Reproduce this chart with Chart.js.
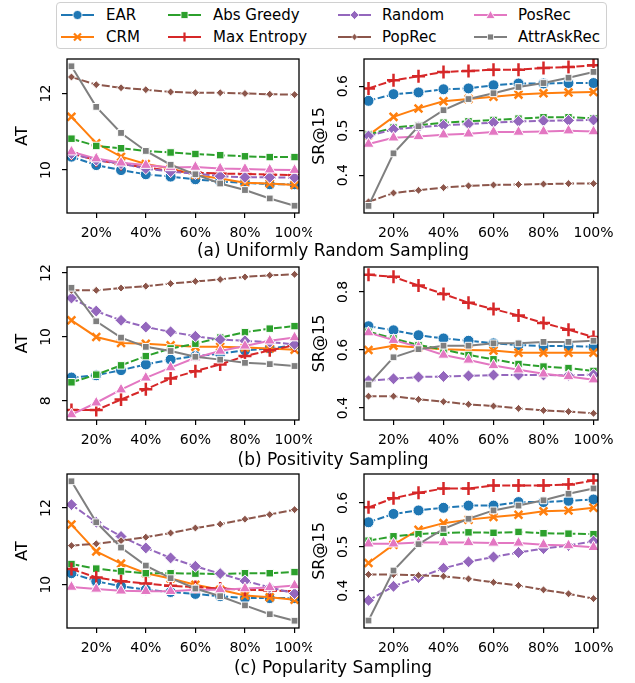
<!DOCTYPE html>
<html>
<head>
<meta charset="utf-8">
<script src="https://cdn.jsdelivr.net/npm/chart.js@4.4.1/dist/chart.umd.min.js"></script>
<style>
  html, body { margin: 0; padding: 0; background: #fff; }
  body { width: 635px; height: 683px; position: relative; overflow: hidden; font-family: 'DejaVu Sans', sans-serif; }
  .cv { position: absolute; }
  .title { position: absolute; left: 0; width: 666px; text-align: center; font-size: 17px; line-height: 20px; color: #000; }
  #legend { position: absolute; left: 56px; top: 2px; width: 551px; height: 47px; border: 1px solid #d0d0d0; border-radius: 4px; box-sizing: border-box; background: #fff; }
  .lg { position: absolute; font-size: 15px; line-height: 16px; color: #000; white-space: nowrap; }
  .lg svg { position: absolute; }
</style>
</head>
<body>
<div id="legend"></div>
<div class="cv" style="left:0;top:55px;width:312px;height:188px;"><canvas id="c_a_at"></canvas></div>
<div class="cv" style="left:312px;top:55px;width:323px;height:188px;"><canvas id="c_a_sr"></canvas></div>
<div class="cv" style="left:0;top:263px;width:312px;height:187px;"><canvas id="c_b_at"></canvas></div>
<div class="cv" style="left:312px;top:263px;width:323px;height:187px;"><canvas id="c_b_sr"></canvas></div>
<div class="cv" style="left:0;top:470px;width:312px;height:188px;"><canvas id="c_c_at"></canvas></div>
<div class="cv" style="left:312px;top:470px;width:323px;height:188px;"><canvas id="c_c_sr"></canvas></div>
<div class="title" style="top:240px;">(a) Uniformly Random Sampling</div>
<div class="title" style="top:449px;">(b) Positivity Sampling</div>
<div class="title" style="top:657px;">(c) Popularity Sampling</div>
<script>
// ---------------- DATA ----------------
const methods = ['EAR', 'CRM', 'Abs Greedy', 'Max Entropy', 'Random', 'PopRec', 'PosRec', 'AttrAskRec'];
const samplingRatios = [10, 20, 30, 40, 50, 60, 70, 80, 90, 100];
const xTickValues = [20, 40, 60, 80, 100];

// (a) Uniformly Random Sampling - AT
const uniformAT_EAR        = [10.35, 10.13, 10.00, 9.89, 9.83, 9.76, 9.70, 9.67, 9.63, 9.63];
const uniformAT_CRM        = [11.39, 10.70, 10.35, 10.16, 10.04, 9.87, 9.78, 9.67, 9.65, 9.61];
const uniformAT_AbsGreedy  = [10.82, 10.63, 10.57, 10.50, 10.46, 10.42, 10.39, 10.36, 10.34, 10.34];
const uniformAT_MaxEntropy = [10.43, 10.26, 10.16, 10.07, 9.98, 9.93, 9.91, 9.90, 9.88, 9.87];
const uniformAT_Random     = [10.43, 10.26, 10.17, 10.04, 9.96, 9.91, 9.84, 9.81, 9.81, 9.80];
const uniformAT_PopRec     = [12.43, 12.23, 12.15, 12.10, 12.04, 12.02, 12.02, 12.00, 11.98, 11.97];
const uniformAT_PosRec     = [10.48, 10.30, 10.19, 10.13, 10.07, 10.08, 10.04, 10.03, 10.01, 10.00];
const uniformAT_AttrAskRec = [12.71, 11.65, 10.97, 10.50, 10.14, 9.89, 9.65, 9.48, 9.26, 9.07];
// (a) Uniformly Random Sampling - SR@15
const uniformSR_EAR        = [0.567, 0.582, 0.586, 0.593, 0.595, 0.602, 0.606, 0.606, 0.607, 0.607];
const uniformSR_CRM        = [0.490, 0.531, 0.550, 0.566, 0.571, 0.576, 0.581, 0.584, 0.586, 0.587];
const uniformSR_AbsGreedy  = [0.491, 0.507, 0.512, 0.518, 0.521, 0.524, 0.527, 0.530, 0.530, 0.528];
const uniformSR_MaxEntropy = [0.595, 0.613, 0.622, 0.632, 0.634, 0.637, 0.637, 0.641, 0.643, 0.647];
const uniformSR_Random     = [0.488, 0.503, 0.508, 0.512, 0.515, 0.518, 0.521, 0.522, 0.523, 0.524];
const uniformSR_PopRec     = [0.340, 0.360, 0.366, 0.372, 0.376, 0.378, 0.379, 0.380, 0.381, 0.381];
const uniformSR_PosRec     = [0.470, 0.484, 0.487, 0.491, 0.493, 0.497, 0.497, 0.498, 0.500, 0.498];
const uniformSR_AttrAskRec = [0.331, 0.449, 0.510, 0.546, 0.571, 0.584, 0.598, 0.607, 0.619, 0.632];

// (b) Positivity Sampling - AT
const positiveAT_EAR        = [8.73, 8.80, 8.96, 9.14, 9.29, 9.40, 9.48, 9.58, 9.64, 9.74];
const positiveAT_CRM        = [10.52, 10.00, 9.81, 9.79, 9.74, 9.69, 9.69, 9.67, 9.64, 9.60];
const positiveAT_AbsGreedy  = [8.58, 8.82, 9.11, 9.40, 9.64, 9.79, 9.98, 10.15, 10.26, 10.34];
const positiveAT_MaxEntropy = [7.71, 7.71, 8.04, 8.36, 8.70, 8.93, 9.14, 9.40, 9.58, 9.74];
const positiveAT_Random     = [11.22, 10.81, 10.52, 10.31, 10.16, 10.02, 9.92, 9.88, 9.84, 9.77];
const positiveAT_PopRec     = [11.46, 11.46, 11.53, 11.59, 11.67, 11.74, 11.80, 11.88, 11.93, 11.96];
const positiveAT_PosRec     = [7.57, 7.94, 8.35, 8.72, 9.04, 9.35, 9.56, 9.72, 9.88, 9.98];
const positiveAT_AttrAskRec = [11.54, 10.49, 9.98, 9.69, 9.56, 9.38, 9.29, 9.19, 9.15, 9.09];
// (b) Positivity Sampling - SR@15
const positiveSR_EAR        = [0.682, 0.668, 0.651, 0.640, 0.632, 0.623, 0.617, 0.614, 0.614, 0.611];
const positiveSR_CRM        = [0.600, 0.615, 0.609, 0.603, 0.600, 0.598, 0.591, 0.591, 0.591, 0.591];
const positiveSR_AbsGreedy  = [0.663, 0.640, 0.617, 0.602, 0.583, 0.568, 0.552, 0.543, 0.538, 0.528];
const positiveSR_MaxEntropy = [0.859, 0.852, 0.822, 0.793, 0.763, 0.741, 0.719, 0.693, 0.670, 0.645];
const positiveSR_Random     = [0.494, 0.501, 0.507, 0.509, 0.511, 0.514, 0.514, 0.514, 0.513, 0.515];
const positiveSR_PopRec     = [0.441, 0.441, 0.430, 0.422, 0.413, 0.407, 0.399, 0.392, 0.388, 0.382];
const positiveSR_PosRec     = [0.660, 0.634, 0.611, 0.583, 0.566, 0.547, 0.532, 0.518, 0.509, 0.498];
const positiveSR_AttrAskRec = [0.481, 0.575, 0.603, 0.615, 0.615, 0.623, 0.623, 0.628, 0.628, 0.632];

// (c) Popularity Sampling - AT
const popularAT_EAR        = [10.30, 10.09, 9.96, 9.87, 9.81, 9.76, 9.70, 9.65, 9.65, 9.65];
const popularAT_CRM        = [11.57, 10.87, 10.55, 10.30, 10.16, 10.00, 9.87, 9.72, 9.67, 9.61];
const popularAT_AbsGreedy  = [10.54, 10.42, 10.35, 10.30, 10.30, 10.29, 10.28, 10.30, 10.30, 10.33];
const popularAT_MaxEntropy = [10.41, 10.19, 10.09, 10.03, 9.97, 9.94, 9.90, 9.87, 9.85, 9.83];
const popularAT_Random     = [12.09, 11.63, 11.26, 10.96, 10.70, 10.48, 10.29, 10.10, 9.93, 9.77];
const popularAT_PopRec     = [11.02, 11.07, 11.15, 11.24, 11.35, 11.48, 11.58, 11.71, 11.83, 11.96];
const popularAT_PosRec     = [9.94, 9.89, 9.84, 9.83, 9.83, 9.87, 9.87, 9.90, 9.93, 9.98];
const popularAT_AttrAskRec = [12.70, 11.63, 10.97, 10.50, 10.17, 9.90, 9.70, 9.46, 9.23, 9.06];
// (c) Popularity Sampling - SR@15
const popularSR_EAR        = [0.556, 0.575, 0.583, 0.589, 0.594, 0.594, 0.602, 0.602, 0.605, 0.608];
const popularSR_CRM        = [0.463, 0.505, 0.539, 0.554, 0.562, 0.568, 0.573, 0.581, 0.583, 0.589];
const popularSR_AbsGreedy  = [0.514, 0.524, 0.529, 0.532, 0.533, 0.532, 0.534, 0.531, 0.530, 0.529];
const popularSR_MaxEntropy = [0.590, 0.611, 0.623, 0.633, 0.633, 0.640, 0.640, 0.640, 0.642, 0.651];
const popularSR_Random     = [0.378, 0.410, 0.430, 0.451, 0.466, 0.477, 0.487, 0.496, 0.503, 0.513];
const popularSR_PopRec     = [0.437, 0.437, 0.435, 0.433, 0.427, 0.419, 0.412, 0.402, 0.393, 0.382];
const popularSR_PosRec     = [0.507, 0.507, 0.510, 0.510, 0.510, 0.509, 0.509, 0.505, 0.503, 0.499];
const popularSR_AttrAskRec = [0.332, 0.446, 0.506, 0.541, 0.564, 0.583, 0.594, 0.606, 0.621, 0.633];

// y-axis ticks per panel
const atTicksA = [10, 12];
const srTicksA = [0.4, 0.5, 0.6];
const atTicksB = [8, 10, 12];
const srTicksB = [0.4, 0.6, 0.8];
const atTicksC = [10, 12];
const srTicksC = [0.4, 0.5, 0.6];

// ---------------- STYLES ----------------
const FONT = "'DejaVu Sans', sans-serif";
const colors = ['#1f77b4', '#ff7f0e', '#2ca02c', '#d62728', '#9467bd', '#8c564b', '#e377c2', '#7f7f7f'];
const styles = [
  { pointStyle: 'circle',   radius: 5.5, filled: true,  dash: [7, 2.5] },
  { pointStyle: 'crossRot', radius: 5.5, filled: false, dash: [] },
  { pointStyle: 'rect',     radius: 5.3, filled: true,  dash: [8, 2.5] },
  { pointStyle: 'cross',    radius: 6.5, filled: false, dash: [8, 2.5] },
  { pointStyle: 'rectRot',  radius: 6,   filled: true,  dash: [7, 2.5] },
  { pointStyle: 'rectRot',  radius: 4,   filled: true,  dash: [8, 2.5] },
  { pointStyle: 'triangle', radius: 6.5, filled: true,  dash: [] },
  { pointStyle: 'rect',     radius: 4.8, filled: true,  dash: [] }
];

function makeDatasets(seriesList) {
  return seriesList.map((vals, i) => {
    const s = styles[i];
    return {
      label: methods[i],
      data: vals.map((v, k) => ({ x: samplingRatios[k], y: v })),
      borderColor: colors[i],
      backgroundColor: colors[i],
      borderWidth: 2,
      borderDash: s.dash,
      pointStyle: s.pointStyle,
      pointRadius: s.radius,
      pointBackgroundColor: colors[i],
      pointBorderColor: s.filled ? '#ffffff' : colors[i],
      pointBorderWidth: s.filled ? 1 : 2.5,
      tension: 0,
      order: methods.length - i
    };
  });
}

function fmtTick(v, kind) {
  return kind === 'sr' ? v.toFixed(1) : String(v);
}

const decoPlugin = {
  id: 'deco',
  afterDraw(chart) {
    const o = chart.options.plugins.deco;
    const ctx = chart.ctx;
    const ca = chart.chartArea;
    const ys = chart.scales.y;
    const xs = chart.scales.x;
    ctx.save();
    // frame
    ctx.strokeStyle = '#000';
    ctx.lineWidth = 1.3;
    ctx.strokeRect(ca.left, ca.top, ca.right - ca.left, ca.bottom - ca.top);
    ctx.fillStyle = '#000';
    ctx.font = '14px ' + FONT;
    ctx.textAlign = 'center';
    ctx.textBaseline = 'middle';
    // x tick labels
    xs.ticks.forEach(t => {
      ctx.fillText(t.value + '%', xs.getPixelForValue(t.value), ca.bottom + 20);
    });
    // y tick labels (rotated)
    ys.ticks.forEach(t => {
      const y = ys.getPixelForValue(t.value);
      ctx.save();
      ctx.translate(ca.left - 21, y);
      ctx.rotate(-Math.PI / 2);
      ctx.fillText(fmtTick(t.value, o.kind), 0, 0);
      ctx.restore();
    });
    // y title
    ctx.font = '16px ' + FONT;
    ctx.save();
    ctx.translate(ca.left - 44, (ca.top + ca.bottom) / 2);
    ctx.rotate(-Math.PI / 2);
    ctx.fillText(o.yTitle, 0, 0);
    ctx.restore();
    ctx.restore();
  }
};

function makeChart(id, seriesList, yMin, yMax, yTicks, yTitle, kind, yAxisW, padRight) {
  new Chart(document.getElementById(id), {
    type: 'line',
    data: { datasets: makeDatasets(seriesList) },
    plugins: [decoPlugin],
    options: {
      responsive: true,
      maintainAspectRatio: false,
      animation: false,
      events: [],
      layout: { autoPadding: false, padding: { left: 0, right: padRight, top: 4, bottom: 0 } },
      plugins: {
        legend: { display: false },
        tooltip: { enabled: false },
        deco: { yTitle: yTitle, kind: kind }
      },
      scales: {
        x: {
          type: 'linear',
          min: 8.2,
          max: 101.8,
          afterBuildTicks(scale) { scale.ticks = xTickValues.map(v => ({ value: v })); },
          afterFit(scale) { scale.height = 30; },
          border: { display: false },
          grid: { display: true, drawOnChartArea: false, drawTicks: true, tickLength: 5, color: '#000', lineWidth: 1.2 },
          ticks: { display: false }
        },
        y: {
          type: 'linear',
          min: yMin,
          max: yMax,
          afterBuildTicks(scale) { scale.ticks = yTicks.map(v => ({ value: v })); },
          afterFit(scale) { scale.width = yAxisW; },
          border: { display: false },
          grid: { display: true, drawOnChartArea: false, drawTicks: true, tickLength: 5, color: '#000', lineWidth: 1.2 },
          ticks: { display: false }
        }
      }
    }
  });
}

makeChart('c_a_at', [uniformAT_EAR, uniformAT_CRM, uniformAT_AbsGreedy, uniformAT_MaxEntropy, uniformAT_Random, uniformAT_PopRec, uniformAT_PosRec, uniformAT_AttrAskRec],
  8.88, 12.9, atTicksA, 'AT', 'at', 67, 13);
makeChart('c_a_sr', [uniformSR_EAR, uniformSR_CRM, uniformSR_AbsGreedy, uniformSR_MaxEntropy, uniformSR_Random, uniformSR_PopRec, uniformSR_PosRec, uniformSR_AttrAskRec],
  0.315, 0.661, srTicksA, 'SR@15', 'sr', 52, 37);
makeChart('c_b_at', [positiveAT_EAR, positiveAT_CRM, positiveAT_AbsGreedy, positiveAT_MaxEntropy, positiveAT_Random, positiveAT_PopRec, positiveAT_PosRec, positiveAT_AttrAskRec],
  7.40, 12.19, atTicksB, 'AT', 'at', 67, 13);
makeChart('c_b_sr', [positiveSR_EAR, positiveSR_CRM, positiveSR_AbsGreedy, positiveSR_MaxEntropy, positiveSR_Random, positiveSR_PopRec, positiveSR_PosRec, positiveSR_AttrAskRec],
  0.359, 0.886, srTicksB, 'SR@15', 'sr', 52, 37);
makeChart('c_c_at', [popularAT_EAR, popularAT_CRM, popularAT_AbsGreedy, popularAT_MaxEntropy, popularAT_Random, popularAT_PopRec, popularAT_PosRec, popularAT_AttrAskRec],
  8.87, 12.89, atTicksC, 'AT', 'at', 67, 13);
makeChart('c_c_sr', [popularSR_EAR, popularSR_CRM, popularSR_AbsGreedy, popularSR_MaxEntropy, popularSR_Random, popularSR_PopRec, popularSR_PosRec, popularSR_AttrAskRec],
  0.315, 0.666, srTicksC, 'SR@15', 'sr', 52, 37);

// ---------------- LEGEND ----------------
function markerSVG(i) {
  const c = colors[i];
  const cx = 16.5, cy = 8;
  switch (i) {
    case 0: return `<circle cx="${cx}" cy="${cy}" r="4.5" fill="${c}" stroke="#fff" stroke-width="0.8"/>`;
    case 1: return `<path d="M${cx-3.5},${cy-3.5}L${cx+3.5},${cy+3.5}M${cx+3.5},${cy-3.5}L${cx-3.5},${cy+3.5}" stroke="${c}" stroke-width="2.2"/>`;
    case 2: return `<rect x="${cx-3.5}" y="${cy-3.5}" width="7" height="7" fill="${c}" stroke="#fff" stroke-width="0.8"/>`;
    case 3: return `<path d="M${cx-4.5},${cy}L${cx+4.5},${cy}M${cx},${cy-4.5}L${cx},${cy+4.5}" stroke="${c}" stroke-width="2.2"/>`;
    case 4: return `<path d="M${cx},${cy-4.5}L${cx+4.5},${cy}L${cx},${cy+4.5}L${cx-4.5},${cy}Z" fill="${c}" stroke="#fff" stroke-width="0.8"/>`;
    case 5: return `<path d="M${cx},${cy-3.5}L${cx+2.8},${cy}L${cx},${cy+3.5}L${cx-2.8},${cy}Z" fill="${c}" stroke="#fff" stroke-width="0.5"/>`;
    case 6: return `<path d="M${cx},${cy-4.5}L${cx+4.5},${cy+3.5}L${cx-4.5},${cy+3.5}Z" fill="${c}" stroke="#fff" stroke-width="0.8"/>`;
    default: return `<rect x="${cx-3}" y="${cy-3}" width="6" height="6" fill="${c}" stroke="#fff" stroke-width="0.8"/>`;
  }
}
const legendCols = [
  { icon: 4, text: 49 },
  { icon: 111, text: 156 },
  { icon: 281, text: 325 },
  { icon: 417, text: 461 }
];
const legendRows = [4, 26];
const legendEl = document.getElementById('legend');
methods.forEach((m, i) => {
  const col = legendCols[Math.floor(i / 2)];
  const row = legendRows[i % 2];
  const d = document.createElement('div');
  d.className = 'lg';
  d.style.left = col.icon + 'px';
  d.style.top = row + 'px';
  d.innerHTML = `<svg width="33" height="16" style="left:0;top:0;">` +
    `<line x1="0" y1="8" x2="33" y2="8" stroke="${colors[i]}" stroke-width="2"/>` +
    markerSVG(i) + `</svg>` +
    `<span style="position:absolute;left:${col.text - col.icon}px;top:0;">${m}</span>`;
  legendEl.appendChild(d);
});
</script>
</body>
</html>
